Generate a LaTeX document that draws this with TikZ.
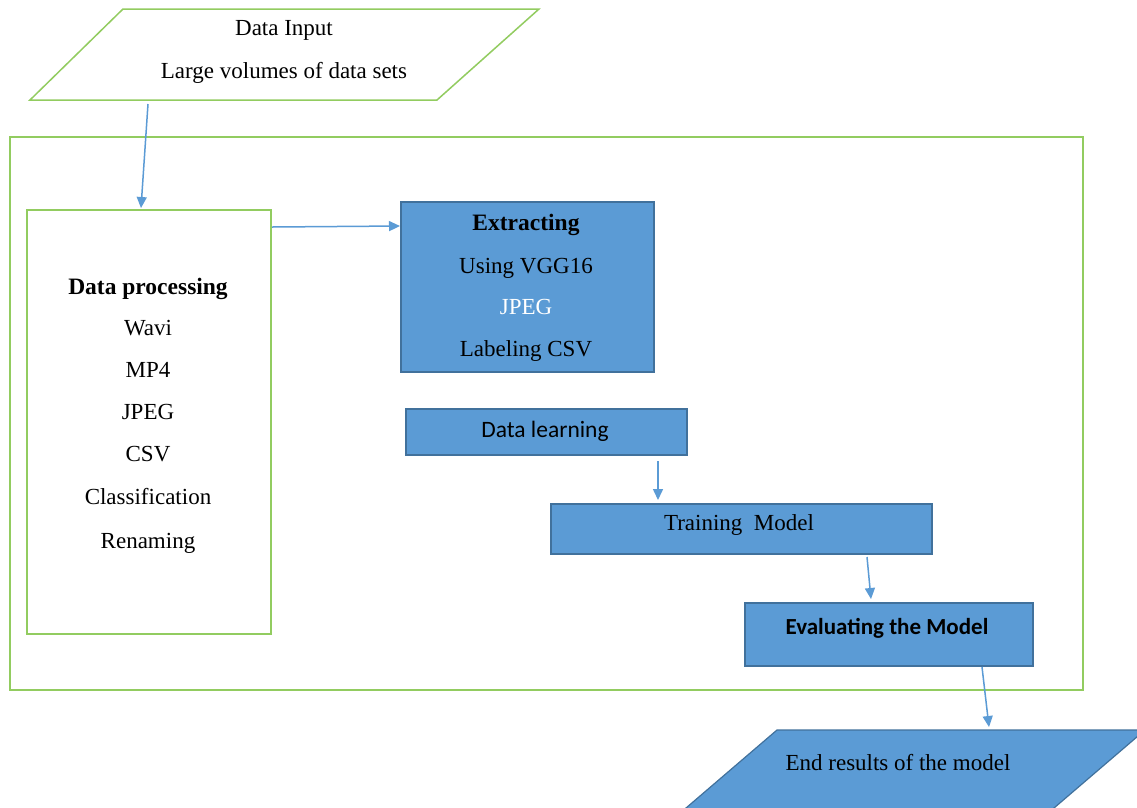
\documentclass[tikz,border=0pt]{standalone}
\usepackage{fontspec}
\setmainfont{Liberation Serif}
\newfontfamily\calib{Carlito}
\usetikzlibrary{arrows.meta,calc}
\definecolor{lgreen}{RGB}{146,204,96}
\definecolor{oblue}{RGB}{91,155,213}
\definecolor{dblue}{RGB}{65,113,156}
\begin{document}
\begin{tikzpicture}[x=1pt,y=-1pt,
  greenbox/.style={draw=lgreen, line width=1.5pt, fill=white, inner sep=0pt, outer sep=0pt},
  bluebox/.style={draw=dblue, line width=1.2pt, fill=oblue, inner sep=0pt, outer sep=0pt},
  txt/.style={anchor=base, inner sep=0pt, font=\fontsize{23}{27}\selectfont},
  btxt/.style={anchor=base, inner sep=0pt, font=\bfseries\fontsize{23.5}{27}\selectfont},
  stxt/.style={anchor=base, inner sep=0pt, font=\calib\fontsize{23.5}{27}\selectfont},
  flow/.style={draw=oblue, line width=1.5pt, -{Triangle[width=10pt,length=11pt]}}
]
\useasboundingbox (0,0) rectangle (1137,807);
\fill[white] (0,0) rectangle (1137,807);

% Data input parallelogram
\draw[draw=lgreen, line width=1.5pt, fill=white] (123,9) -- (539,9) -- (437,100) -- (30,100) -- cycle;
\node[txt] (inA) at (284,35) {Data Input};
\node[txt] (inB) at (284,78) {Large volumes of data sets};

% outer frame
\node[greenbox, fill=none, minimum width=1073, minimum height=553] (frame) at (546.5,413.5) {};

% Data processing box
\node[greenbox, minimum width=244, minimum height=424] (proc) at (149,422) {};
\node[btxt] (p0) at (148,294) {Data processing};
\node[txt] (p1) at (148,335) {Wavi};
\node[txt] (p2) at (148,377) {MP4};
\node[txt] (p3) at (148,419) {JPEG};
\node[txt] (p4) at (148,461) {CSV};
\node[txt] (p5) at (148,504) {Classification};
\node[txt] (p6) at (148,548) {Renaming};

% Extracting box
\node[bluebox, minimum width=253, minimum height=170] (extr) at (527.5,287) {};
\node[btxt] (e0) at (526,230) {Extracting};
\node[txt] (e1) at (526,273) {Using VGG16};
\node[txt, text=white] (e2) at (526,314) {JPEG};
\node[txt] (e3) at (526,356) {Labeling CSV};

% Data learning
\node[bluebox, minimum width=281, minimum height=46] (learn) at (546.5,432) {};
\node[stxt] (lt) at (545,437) {Data learning};

% Training model
\node[bluebox, minimum width=381, minimum height=50] (train) at (741.5,529) {};
\node[txt] (tt) at (739,530) {Training\ \ Model};

% Evaluating
\node[bluebox, minimum width=288, minimum height=63] (eval) at (889,634.5) {};
\node[stxt, font=\calib\bfseries\fontsize{23}{27}\selectfont] (et) at (887,634) {Evaluating the Model};

% End results parallelogram
\begin{scope}
\clip (0,0) rectangle (1137,807);
\draw[draw=dblue, line width=1.2pt, fill=oblue] (777,730) -- (1145,730) -- (1040,820) -- (672,820) -- cycle;
\end{scope}
\node[txt] (rt) at (898,770) {End results of the model};

% connector coordinates
\coordinate (a1s) at (148,104);
\coordinate (a1e) at ($(proc.north)+(-8,-2)$);
\coordinate (a2s) at ($(proc.north east)+(1,17)$);
\coordinate (a2e) at ($(extr.north west)+(-1,24)$);
\coordinate (a3s) at (658,461);
\coordinate (a3e) at ($(train.north west)+(107,-4)$);
\coordinate (a4s) at (867,557);
\coordinate (a4e) at ($(eval.north west)+(126,-4)$);
\coordinate (a5s) at (982,667);
\coordinate (a5e) at (989,727);

\draw[flow] (a1s) -- (a1e);
\draw[flow] (a2s) -- (a2e);
\draw[flow] (a3s) -- (a3e);
\draw[flow] (a4s) -- (a4e);
\draw[flow] (a5s) -- (a5e);
\end{tikzpicture}
\end{document}
